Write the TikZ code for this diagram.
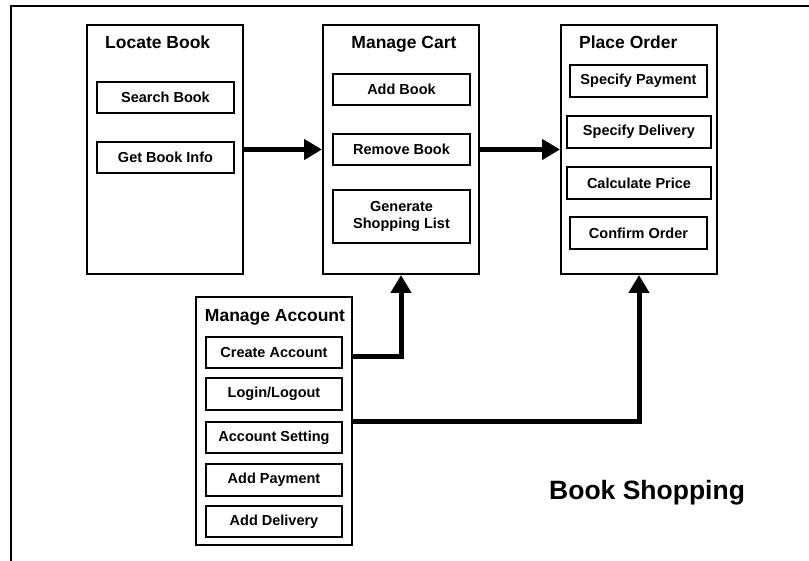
\documentclass[tikz,border=0pt]{standalone}
\usepackage{fontspec}
\setmainfont{Liberation Sans}
\usetikzlibrary{arrows.meta}
\begin{document}
\begin{tikzpicture}[x=1pt,y=-1pt,
  group/.style={draw, line width=2pt, minimum width=156pt, minimum height=249pt, inner sep=0pt},
  item/.style={draw, line width=2pt, minimum width=137pt, minimum height=31pt, inner sep=0pt, align=center,
    font=\fontsize{14.5}{17}\selectfont\bfseries},
  title/.style={inner sep=0pt, font=\fontsize{17.5}{21}\selectfont\bfseries},
  conn/.style={line width=5pt, -{Triangle[length=18pt,width=20pt]}}]
\useasboundingbox (0,0) rectangle (809,561);
\draw[line width=2.5pt] (11,562) -- (11,6) -- (810,6);
% Locate Book
\node[group] (LB) at (165,149.5) {};
\node[title, anchor=base west] (LBt) at (105,49) {Locate Book};
\node[item] (SB) at (165.5,97.5) {Search Book};
\node[item] (GB) at (165.5,157.5) {Get Book Info};
% Manage Cart
\node[group] (MC) at (401,149.5) {};
\node[title, anchor=base] (MCt) at (404,49) {Manage Cart};
\node[item] (AB) at (401.5,89.5) {Add Book};
\node[item] (RB) at (401.5,149.5) {Remove Book};
\node[item, minimum height=53pt, font=\fontsize{14.5}{17.5}\selectfont\bfseries] (GS) at (401.5,216.5) {Generate\\Shopping List};
% Place Order
\node[group] (PO) at (639,149.5) {};
\node[title, anchor=base west] (POt) at (579,49) {Place Order};
\node[item, minimum height=32pt] (SP) at (638.5,81) {Specify Payment};
\node[item, minimum height=32pt, minimum width=144pt] (SD) at (639,132) {Specify Delivery};
\node[item, minimum height=32pt, minimum width=144pt] (CP) at (639,183) {Calculate Price};
\node[item, minimum height=32pt] (CO) at (638.5,233) {Confirm Order};
% Manage Account
\node[group, minimum height=248pt] (MA) at (274,421) {};
\node[title, anchor=base] (MAt) at (275,322) {Manage Account};
\node[item, minimum width=136pt] (CA) at (274,352.5) {Create Account};
\node[item, minimum width=136pt, minimum height=32pt] (LL) at (274,394) {Login/Logout};
\node[item, minimum width=136pt] (AS) at (274,437.5) {Account Setting};
\node[item, minimum width=136pt, minimum height=32pt] (AP) at (274,480) {Add Payment};
\node[item, minimum width=136pt] (AD) at (274,521.5) {Add Delivery};
% label
\node[inner sep=0pt, anchor=base west, font=\fontsize{26.5}{30}\selectfont\bfseries] (BS) at (549,499) {Book Shopping};
% connectors
\draw[conn] (LB.east) -- (MC.west);
\draw[conn] (MC.east) -- (PO.west);
\draw[conn] (MA.east |- 0,357) -| (MC.south);
\draw[conn] (MA.east |- 0,421) -| (PO.south);
\end{tikzpicture}
\end{document}
